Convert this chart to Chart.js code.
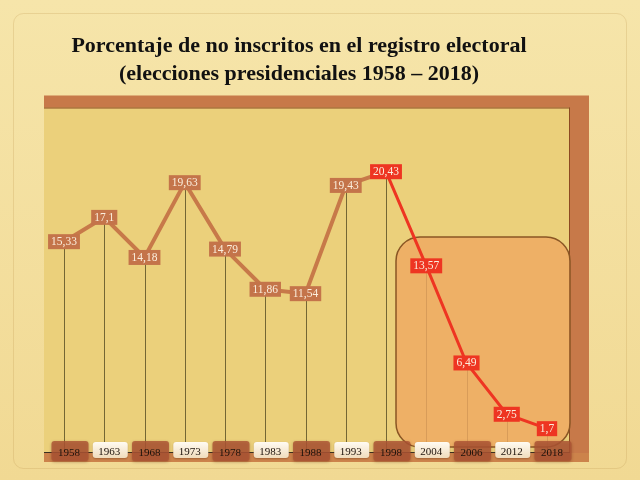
<!DOCTYPE html>
<html>
<head>
<meta charset="utf-8">
<script src="https://cdn.jsdelivr.net/npm/chart.js@4/dist/chart.umd.min.js"></script>
<style>
  html, body { margin: 0; padding: 0; }
  body {
    width: 640px; height: 480px; position: relative; overflow: hidden;
    background: linear-gradient(#f6e5aa, #f1d993);
  }
  canvas { position: absolute; left: 0; top: 0; }
  #title {
    position: absolute; left: 0; top: 31px; width: 598px;
    text-align: center; color: #111;
    font: bold 22px "Liberation Serif", "DejaVu Serif", serif; line-height: 28px;
  }
</style>
</head>
<body>
<canvas id="chart" width="640" height="480"></canvas>
<div id="title">Porcentaje de no inscritos en el registro electoral<br>(elecciones presidenciales 1958 – 2018)</div>
<script>
// años de elección
const years = ['1958', '1963', '1968', '1973', '1978', '1983', '1988', '1993', '1998', '2004', '2006', '2012', '2018'];
// % de no inscritos
const noInscritos = [15.33, 17.1, 14.18, 19.63, 14.79, 11.86, 11.54, 19.43, 20.43, 13.57, 6.49, 2.75, 1.7];
// desde este índice la serie va en rojo
const redFrom = 8;

const BROWN = '#c77949';
const RED = '#ee3522';

// "15.33" -> "15,33"
const fmt = v => String(v).replace('.', ',');

function roundRect(ctx, x, y, w, h, r) {
  ctx.beginPath();
  ctx.roundRect(x, y, w, h, r);
}

// marco, fondo, líneas verticales y recuadro destacado
const decor = {
  id: 'decor',
  beforeDatasetsDraw(chart) {
    const { ctx, chartArea: a, scales: { x, y } } = chart;
    ctx.save();

    // borde de la diapositiva
    ctx.strokeStyle = 'rgba(190,150,80,0.25)';
    ctx.lineWidth = 1;
    roundRect(ctx, 13.5, 13.5, 613, 455, 10);
    ctx.stroke();

    const fl = a.left - 20, fr = a.right + 42, pr = a.right + 23;
    const ft = a.top - 13.5, pt = a.top - 1.5, fb = a.bottom + 10;

    // marco
    ctx.fillStyle = BROWN;
    ctx.fillRect(fl, ft, fr - fl, fb - ft);
    // fondo del gráfico
    ctx.fillStyle = '#ebd07b';
    ctx.fillRect(fl, pt, pr - fl, a.bottom + 1 - pt);
    ctx.strokeStyle = '#8c4a22';
    ctx.beginPath();
    ctx.moveTo(fl, pt + 0.5); ctx.lineTo(pr, pt + 0.5);
    ctx.moveTo(pr - 0.5, pt); ctx.lineTo(pr - 0.5, a.bottom);
    ctx.stroke();
    // franja inferior
    ctx.fillStyle = '#cc834b';
    ctx.fillRect(fl, a.bottom + 1, fr - fl, fb - a.bottom - 1);

    // líneas verticales desde cada punto
    ctx.strokeStyle = 'rgba(85,75,35,0.8)';
    ctx.lineWidth = 1;
    noInscritos.forEach((v, i) => {
      const px = Math.round(x.getPixelForValue(i)) + 0.5;
      ctx.beginPath();
      ctx.moveTo(px, y.getPixelForValue(v));
      ctx.lineTo(px, a.bottom);
      ctx.stroke();
    });

    // eje
    ctx.strokeStyle = '#3a3020';
    ctx.beginPath();
    ctx.moveTo(fl, a.bottom + 0.5); ctx.lineTo(pr, a.bottom + 0.5);
    ctx.stroke();

    // recuadro destacado
    const bx = x.getPixelForValue(redFrom) + 10;
    roundRect(ctx, bx, a.top + 128, pr - bx, a.bottom - 5 - (a.top + 128), 24);
    ctx.fillStyle = 'rgba(238,168,98,0.82)';
    ctx.fill();
    ctx.strokeStyle = '#8a5624';
    ctx.lineWidth = 1.5;
    ctx.stroke();

    ctx.restore();
  },
  afterDatasetsDraw(chart) {
    const { ctx, chartArea: a, scales: { x, y } } = chart;
    ctx.save();
    ctx.textAlign = 'center';
    ctx.textBaseline = 'middle';

    // etiquetas de valores
    ctx.font = '11.5px "Liberation Serif", serif';
    noInscritos.forEach((v, i) => {
      const px = x.getPixelForValue(i), py = y.getPixelForValue(v);
      const t = fmt(v);
      const w = ctx.measureText(t).width + 6;
      ctx.fillStyle = i >= redFrom ? RED : '#c4744a';
      ctx.fillRect(px - w / 2, py - 7.5, w, 15);
      ctx.fillStyle = '#fbeedd';
      ctx.fillText(t, px, py + 0.5);
    });

    // etiquetas de años
    ctx.font = '11px "Liberation Serif", serif';
    years.forEach((yr, i) => {
      const cx = x.getPixelForValue(i) + 6;
      const dark = i % 2 === 0;
      ctx.save();
      if (dark) {
        ctx.shadowColor = 'rgba(90,30,10,0.45)';
        ctx.shadowBlur = 3;
        ctx.shadowOffsetY = 1;
        roundRect(ctx, cx - 18.5, a.bottom - 11, 37, 20, 3);
        ctx.fillStyle = 'rgba(172,84,52,0.82)';
        ctx.fill();
      } else {
        ctx.shadowColor = 'rgba(90,40,10,0.35)';
        ctx.shadowBlur = 2;
        ctx.shadowOffsetY = 1;
        roundRect(ctx, cx - 17.5, a.bottom - 10, 35, 16, 3);
        const g = ctx.createLinearGradient(0, a.bottom - 10, 0, a.bottom + 6);
        g.addColorStop(0, '#fffbf2');
        g.addColorStop(1, '#f0dcbc');
        ctx.fillStyle = g;
        ctx.fill();
      }
      ctx.restore();
      ctx.fillStyle = '#1c120b';
      ctx.fillText(yr, cx - 1, a.bottom + (dark ? 1.5 : 0));
    });

    ctx.restore();
  }
};

new Chart(document.getElementById('chart'), {
  type: 'line',
  data: {
    labels: years,
    datasets: [{
      data: noInscritos,
      borderColor: BROWN,
      borderWidth: 4,
      pointRadius: 0,
      tension: 0,
      segment: {
        borderColor: c => c.p0DataIndex >= redFrom ? RED : undefined,
        borderWidth: c => c.p0DataIndex >= redFrom ? 3 : undefined
      }
    }]
  },
  options: {
    responsive: false,
    animation: false,
    devicePixelRatio: 1,
    layout: { padding: { left: 64, right: 93, top: 109, bottom: 28 } },
    scales: {
      x: { display: false, offset: false },
      y: { display: false, min: 0, max: 25 }
    },
    plugins: {
      legend: { display: false },
      tooltip: { enabled: false }
    }
  },
  plugins: [decor]
});
</script>
</body>
</html>
